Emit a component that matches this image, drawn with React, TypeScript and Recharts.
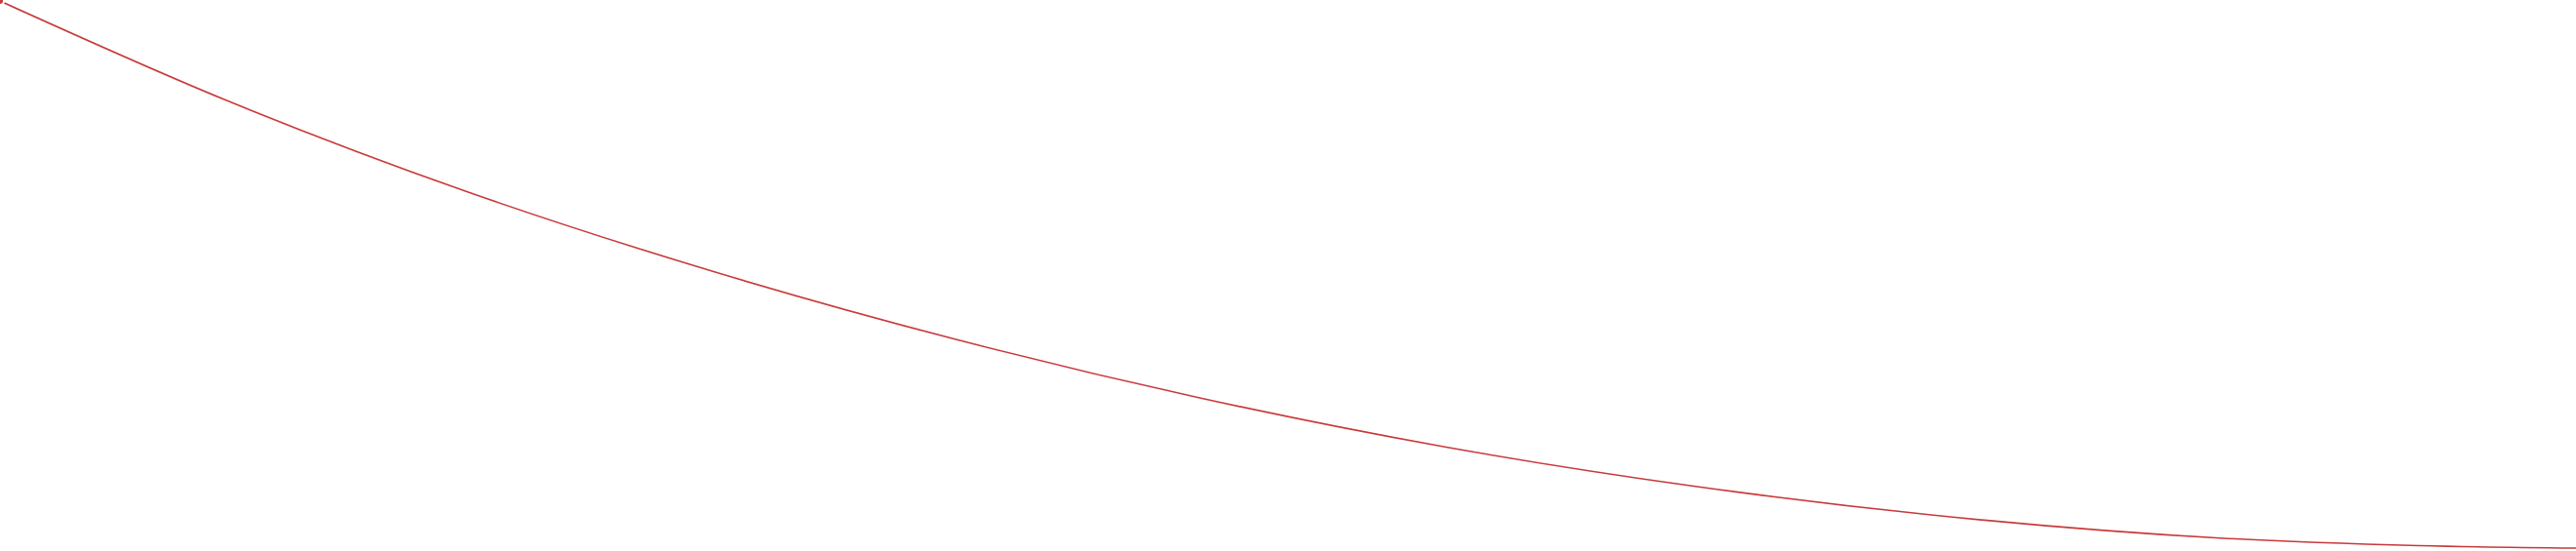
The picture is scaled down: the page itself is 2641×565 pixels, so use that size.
import { LineChart, Line, XAxis, YAxis } from "recharts";

const positions = [
  0, 230, 480, 730, 980, 1230, 1480, 1740, 1980, 2280, 2480, 2641,
];
const depths = [1, 102, 197, 278, 348, 408, 458, 499, 528, 552, 559.5, 562];

const data = positions.map((x, i) => ({ x, y: depths[i] }));

export default function App() {
  return (
    <div style={{ position: "absolute", left: 0, top: 0 }}>
      <LineChart
        width={2641}
        height={565}
        data={data}
        margin={{ top: 0, right: 0, bottom: 0, left: 0 }}
      >
        <XAxis dataKey="x" type="number" domain={[0, 2641]} hide />
        <YAxis type="number" domain={[0, 565]} reversed hide />
        <Line
          type="monotone"
          dataKey="y"
          stroke="#c83a3a"
          strokeWidth={1.6}
          dot={false}
          isAnimationActive={false}
        />
      </LineChart>
    </div>
  );
}
